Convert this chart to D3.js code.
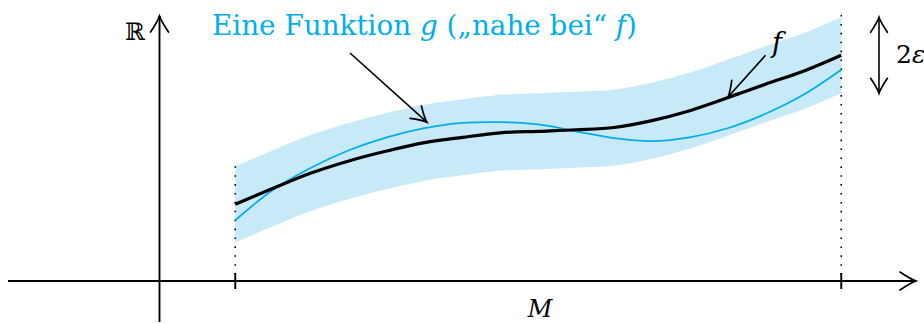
<!DOCTYPE html><html><head><meta charset="utf-8"><script src="https://cdn.jsdelivr.net/npm/d3@7"></script></head>
<body style="margin:0;background:#fff">
<svg id="c" width="924" height="324" style="display:block"></svg>
<script>
// --- Data ---
const xs    = [1, 1.5, 2, 2.5, 3, 3.5, 4, 4.5, 5, 5.5, 6, 6.5, 7, 7.5, 8, 8.5, 9];
const fVals = [1.01, 1.22, 1.42, 1.58, 1.71, 1.82, 1.89, 1.95, 1.97, 1.99, 2.02, 2.11, 2.24, 2.41, 2.59, 2.76, 2.97];
const gVals = [0.80, 1.20, 1.49, 1.72, 1.89, 2.01, 2.08, 2.09, 2.06, 1.97, 1.88, 1.84, 1.89, 2.01, 2.20, 2.45, 2.78];
const eps = 0.5;
const domainM = [1, 9];

const labelG = ["Eine Funktion ", "g", " (\u201Enahe bei\u201C ", "f", ")"];
const labelF = "f";
const labelEps = ["2", "\u03B5"];
const labelM = "M";
const labelR = "\u211D";

const fData = xs.map((x, i) => ({ x, y: fVals[i] }));
const gData = xs.map((x, i) => ({ x, y: gVals[i] }));

// --- Scales ---
const x = d3.scaleLinear().domain([-2, 10]).range([8, 917]);
const y = d3.scaleLinear().domain([-0.5, 3.5]).range([319, 15]);

const blue = "#00aeef";
const band = "#c7e9f8";

const svg = d3.select("#c");

// --- Markers ---
const defs = svg.append("defs");
function marker(id, s) {
  defs.append("marker")
    .attr("id", id)
    .attr("markerUnits", "userSpaceOnUse")
    .attr("viewBox", "-20 -12 24 24")
    .attr("markerWidth", 24)
    .attr("markerHeight", 24)
    .attr("refX", 0)
    .attr("refY", 0)
    .attr("orient", "auto-start-reverse")
    .append("path")
    .attr("d", `M${-s},${-s * 0.56} Q${-s * 0.35},${-s * 0.12} 0,0 Q${-s * 0.35},${s * 0.12} ${-s},${s * 0.56}`)
    .attr("fill", "none")
    .attr("stroke", "#000")
    .attr("stroke-width", 1.7)
    .attr("stroke-linecap", "round");
}
marker("arr", 16);
marker("arrS", 15);

// --- Band f +- eps ---
const area = d3.area()
  .x(d => x(d.x))
  .y0(d => y(d.y - eps))
  .y1(d => y(d.y + eps))
  .curve(d3.curveCatmullRom);

svg.append("path")
  .datum(fData)
  .attr("d", area)
  .attr("fill", band);

// --- Dotted verticals ---
svg.append("line")
  .attr("x1", x(domainM[0])).attr("x2", x(domainM[0]))
  .attr("y1", y(fVals[0] + eps)).attr("y2", y(0))
  .attr("stroke", "#000").attr("stroke-width", 1.6)
  .attr("stroke-dasharray", "1.6 7.3");
svg.append("line")
  .attr("x1", x(domainM[1])).attr("x2", x(domainM[1]))
  .attr("y1", y(3.5)).attr("y2", y(0))
  .attr("stroke", "#000").attr("stroke-width", 1.6)
  .attr("stroke-dasharray", "1.6 7.3");

// --- Axes ---
svg.append("line")
  .attr("x1", x(-2)).attr("x2", x(10) - 1)
  .attr("y1", y(0)).attr("y2", y(0))
  .attr("stroke", "#000").attr("stroke-width", 1.9)
  .attr("marker-end", "url(#arr)");
svg.append("line")
  .attr("x1", x(0)).attr("x2", x(0))
  .attr("y1", 322).attr("y2", y(3.5) + 1)
  .attr("stroke", "#000").attr("stroke-width", 1.9)
  .attr("marker-end", "url(#arr)");

// ticks at the ends of M
svg.selectAll("line.tick")
  .data(domainM)
  .enter()
  .append("line")
  .attr("class", "tick")
  .attr("x1", d => x(d)).attr("x2", d => x(d))
  .attr("y1", y(0) - 8).attr("y2", y(0) + 8)
  .attr("stroke", "#000").attr("stroke-width", 1.9);

// --- Curves ---
const line = d3.line()
  .x(d => x(d.x))
  .y(d => y(d.y))
  .curve(d3.curveCatmullRom);

svg.append("path")
  .datum(gData)
  .attr("d", line)
  .attr("fill", "none")
  .attr("stroke", blue)
  .attr("stroke-width", 1.8);

svg.append("path")
  .datum(fData)
  .attr("d", line)
  .attr("fill", "none")
  .attr("stroke", "#000")
  .attr("stroke-width", 3.2);

// --- 2 eps arrow ---
svg.append("line")
  .attr("x1", 879).attr("x2", 879)
  .attr("y1", y(fVals[fVals.length - 1] + eps)).attr("y2", y(fVals[fVals.length - 1] - eps))
  .attr("stroke", "#000").attr("stroke-width", 1.6)
  .attr("marker-start", "url(#arrS)")
  .attr("marker-end", "url(#arrS)");

// --- Annotation arrows ---
svg.append("line")
  .attr("x1", x(2.515)).attr("y1", y(3.0))
  .attr("x2", x(3.53)).attr("y2", y(2.09))
  .attr("stroke", "#000").attr("stroke-width", 1.6)
  .attr("marker-end", "url(#arrS)");

svg.append("line")
  .attr("x1", x(8.0)).attr("y1", y(2.97))
  .attr("x2", x(7.505)).attr("y2", y(2.42))
  .attr("stroke", "#000").attr("stroke-width", 1.6)
  .attr("marker-end", "url(#arrS)");

// --- Labels ---
const serif = "DejaVu Serif";
const labels = svg.append("g");

labels.append("text")
  .attr("x", 896).attr("y", 63)
  .attr("font-family", serif).style("font-family", serif)
  .style("font-size", "25px")
  .text(labelEps[0]);
labels.append("text")
  .attr("x", 912).attr("y", 63)
  .attr("font-family", serif).style("font-family", serif)
  .style("font-size", "25px").style("font-style", "italic")
  .text(labelEps[1]);

const gText = labels.append("text")
  .attr("x", 212).attr("y", 35)
  .attr("font-family", serif).style("font-family", serif)
  .style("font-size", "27px")
  .style("fill", blue)
  .attr("textLength", 425)
  .attr("lengthAdjust", "spacingAndGlyphs");
labelG.forEach((s, i) => {
  const t = gText.append("tspan").text(s);
  if (i === 1 || i === 3) t.style("font-style", "italic");
});

labels.append("text")
  .attr("x", 772).attr("y", 52)
  .attr("font-family", serif).style("font-family", serif)
  .style("font-size", "27px").style("font-style", "italic")
  .text(labelF);

labels.append("text")
  .attr("x", 540).attr("y", 317)
  .attr("text-anchor", "middle")
  .attr("font-family", serif).style("font-family", serif)
  .style("font-size", "24px").style("font-style", "italic")
  .text(labelM);

labels.append("text")
  .attr("x", 125).attr("y", 40)
  .attr("font-family", serif).style("font-family", serif)
  .style("font-size", "24px")
  .text(labelR);
</script>
</body>
</html>
